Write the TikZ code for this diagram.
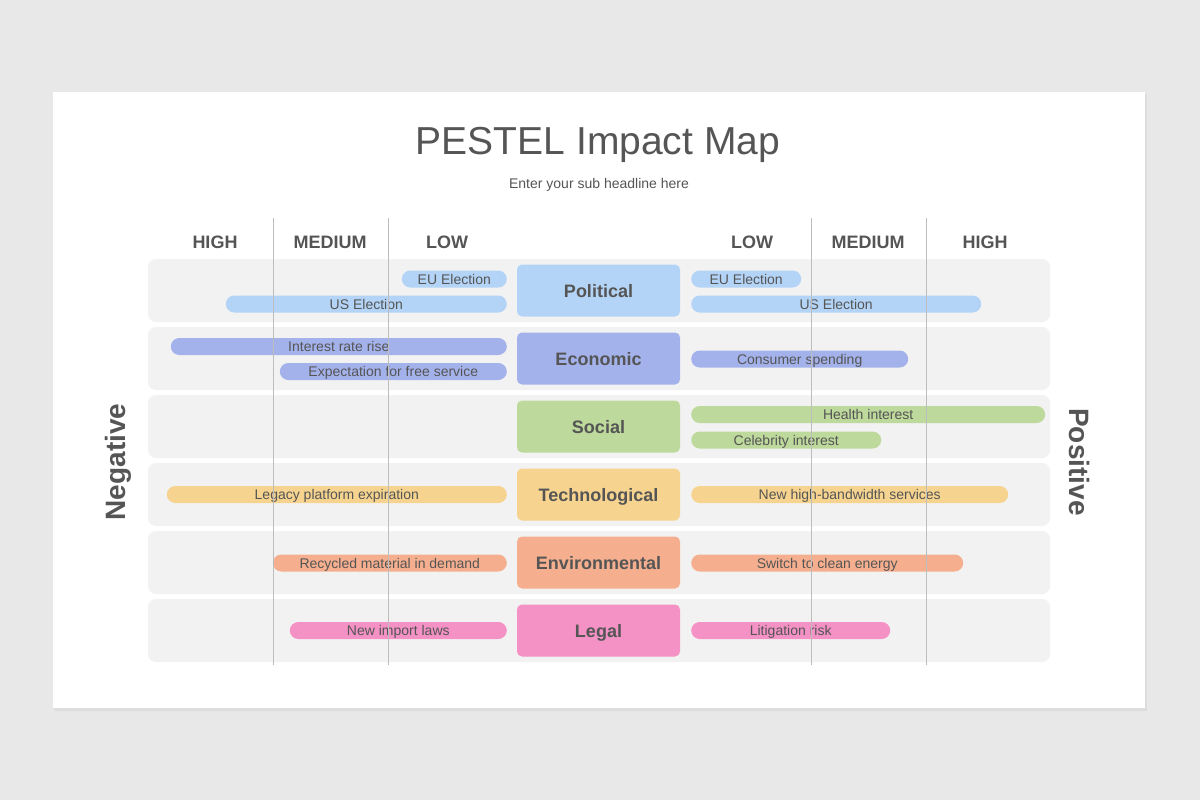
\documentclass[tikz,border=0pt]{standalone}
\usepackage{fontspec}
\setmainfont{Liberation Sans}
\definecolor{bgcol}{HTML}{E9E8E9}
\definecolor{shadowcol}{HTML}{DEDDDE}
\definecolor{rowgray}{HTML}{F2F2F2}
\definecolor{txt}{HTML}{555555}
\definecolor{linegray}{HTML}{BDBDBD}
\definecolor{pol}{HTML}{B3D4F6}
\definecolor{eco}{HTML}{A4B2EB}
\definecolor{soc}{HTML}{BDD99B}
\definecolor{tech}{HTML}{F6D48F}
\definecolor{env}{HTML}{F5AF8E}
\definecolor{leg}{HTML}{F491C5}
\begin{document}
\begin{tikzpicture}[x=1pt,y=-1pt,
 rowbox/.style={fill=rowgray, rounded corners=8pt, draw=none, minimum width=902pt, minimum height=63pt, inner sep=0},
 catbox/.style={minimum width=163pt, minimum height=52pt, rounded corners=5pt, font=\fontsize{18}{20}\selectfont\bfseries, text=txt, inner sep=0, text height=13pt, text depth=0pt},
 pill/.style={minimum height=17pt, rounded corners=8.5pt, inner sep=0, font=\fontsize{14}{16}\selectfont, text=txt, text height=10pt, text depth=0pt},
 lpill/.style={pill, anchor=east},
 rpill/.style={pill, anchor=west},
 hdr/.style={font=\fontsize{18}{20}\selectfont\bfseries, text=txt, anchor=base},
 side/.style={font=\fontsize{28}{30}\selectfont\bfseries, text=txt},
 vline/.style={draw=linegray, line width=1pt}]
\fill[bgcol] (0,0) rectangle (1200,800);
\useasboundingbox (0,0) rectangle (1200,800);
\fill[shadowcol] (54,94) rectangle (1147,711);
\fill[white] (53,92) rectangle (1145,708);

\node[font=\fontsize{39}{44}\selectfont, text=txt, anchor=base] (title) at (598,154) {PESTEL Impact Map};
\node[font=\fontsize{14}{16}\selectfont, text=txt, anchor=base] (sub) at (599,188) {Enter your sub headline here};

\node[hdr] (hl1) at (215,248) {HIGH};
\node[hdr] (hl2) at (330,248) {MEDIUM};
\node[hdr] (hl3) at (447,248) {LOW};
\node[hdr] (hr1) at (752,248) {LOW};
\node[hdr] (hr2) at (868,248) {MEDIUM};
\node[hdr] (hr3) at (985,248) {HIGH};

\node[rowbox] (r1) at (599,290.5) {};
\node[rowbox] (r2) at (599,358.5) {};
\node[rowbox] (r3) at (599,426.5) {};
\node[rowbox] (r4) at (599,494.5) {};
\node[rowbox] (r5) at (599,562.5) {};
\node[rowbox] (r6) at (599,630.5) {};

\node[catbox, fill=pol] (c1) at (598.5,290.5) {Political};
\node[catbox, fill=eco] (c2) at (598.5,358.5) {Economic};
\node[catbox, fill=soc] (c3) at (598.5,426.5) {Social};
\node[catbox, fill=tech] (c4) at (598.5,494.5) {Technological};
\node[catbox, fill=env] (c5) at (598.5,562.5) {Environmental};
\node[catbox, fill=leg] (c6) at (598.5,630.5) {Legal};

% left pills
\node[lpill, fill=pol, minimum width=105pt] (l1a) at (507,279) {EU Election};
\node[lpill, fill=pol, minimum width=281pt] (l1b) at (507,304) {US Election};
\node[lpill, fill=eco, minimum width=336pt] (l2a) at (507,346.5) {Interest rate rise};
\node[lpill, fill=eco, minimum width=227pt] (l2b) at (507,371.5) {Expectation for free service};
\node[lpill, fill=tech, minimum width=340pt] (l4) at (507,494.5) {Legacy platform expiration};
\node[lpill, fill=env, minimum width=234pt] (l5) at (507,563) {Recycled material in demand};
\node[lpill, fill=leg, minimum width=217pt] (l6) at (507,630.5) {New import laws};

% right pills
\node[rpill, fill=pol, minimum width=110pt] (p1a) at (691,279) {EU Election};
\node[rpill, fill=pol, minimum width=290pt] (p1b) at (691,304) {US Election};
\node[rpill, fill=eco, minimum width=217pt] (p2) at (691,359) {Consumer spending};
\node[rpill, fill=soc, minimum width=354pt] (p3a) at (691,414.5) {Health interest};
\node[rpill, fill=soc, minimum width=190pt] (p3b) at (691,440) {Celebrity interest};
\node[rpill, fill=tech, minimum width=317pt] (p4) at (691,494.5) {New high-bandwidth services};
\node[rpill, fill=env, minimum width=272pt] (p5) at (691,563) {Switch to clean energy};
\node[rpill, fill=leg, minimum width=199pt] (p6) at (691,630.5) {Litigation risk};

% vertical grid lines
\draw[vline] (273,218) -- (273,665);
\draw[vline] (388,218) -- (388,665);
\draw[vline] (811,218) -- (811,665);
\draw[vline] (926,218) -- (926,665);

\node[side, rotate=90] (neg) at (118,462) {Negative};
\node[side, rotate=-90] (pos) at (1079,462) {Positive};
\end{tikzpicture}
\end{document}
